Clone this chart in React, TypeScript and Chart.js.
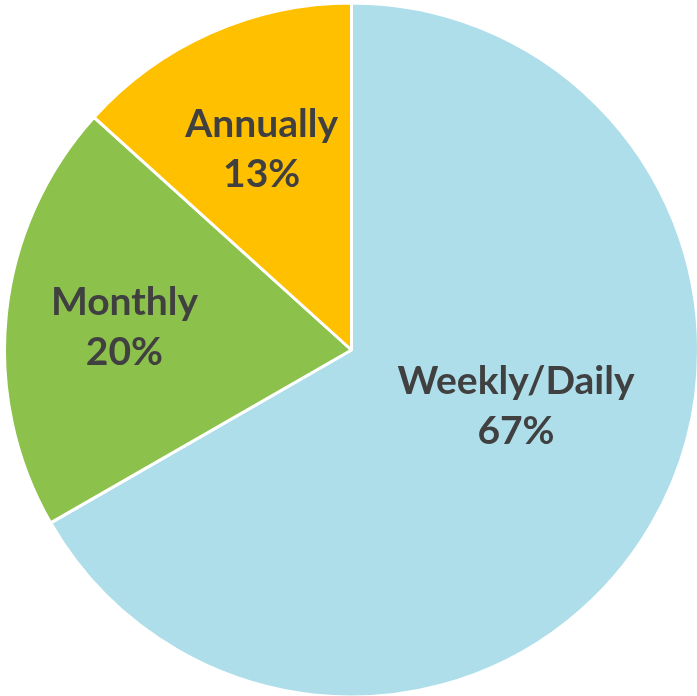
import React, { useEffect, useRef } from "react";
import { Chart, registerables } from "chart.js";

Chart.register(...registerables);

const categories = ["Weekly/Daily", "Monthly", "Annually"];
const shares = [66.7, 20, 13.3];
const sliceColors = ["#ADDEEA", "#8CC14B", "#FFC000"];
const labelRadius = [0.5, 0.658, 0.638];
const labelAngleShift = [-11.5, 0, 0];

const labelPlugin = {
  id: "sliceLabels",
  afterDatasetsDraw(chart: any) {
    const ctx = chart.ctx;
    const meta = chart.getDatasetMeta(0);
    const data = chart.data.datasets[0].data as number[];
    const total = data.reduce((a, b) => a + b, 0);
    ctx.save();
    ctx.font = "bold 39px Lato";
    ctx.fillStyle = "#404040";
    ctx.textAlign = "center";
    ctx.textBaseline = "alphabetic";
    meta.data.forEach((arc: any, i: number) => {
      const { x, y, startAngle, endAngle, outerRadius } = arc.getProps(
        ["x", "y", "startAngle", "endAngle", "outerRadius"],
        true
      );
      const mid = (startAngle + endAngle) / 2 + (labelAngleShift[i] * Math.PI) / 180;
      const r = outerRadius * labelRadius[i];
      const cx = x + Math.cos(mid) * r;
      const cy = y + Math.sin(mid) * r;
      ctx.fillText(chart.data.labels[i], cx, cy - 25 + 14);
      ctx.fillText(Math.round((data[i] / total) * 100) + "%", cx, cy + 25 + 14);
    });
    ctx.restore();
  },
};

export default function App() {
  const canvasRef = useRef<HTMLCanvasElement | null>(null);

  useEffect(() => {
    if (!canvasRef.current) return;
    const chart = new Chart(canvasRef.current, {
      type: "pie",
      data: {
        labels: categories,
        datasets: [
          {
            data: shares,
            backgroundColor: sliceColors,
            borderColor: "#FFFFFF",
            borderWidth: 3,
          },
        ],
      },
      options: {
        responsive: false,
        animation: false,
        events: [],
        layout: { padding: 1.5 },
        plugins: {
          legend: { display: false },
          tooltip: { enabled: false },
        },
      },
      plugins: [labelPlugin],
    });
    return () => chart.destroy();
  }, []);

  return (
    <div
      style={{
        position: "fixed",
        left: 0,
        top: 0,
        width: 697,
        height: 696,
        overflow: "hidden",
        background: "#FFFFFF",
      }}
    >
      <canvas
        ref={canvasRef}
        width={703}
        height={700}
        style={{ width: 703, height: 700, display: "block" }}
      />
    </div>
  );
}
